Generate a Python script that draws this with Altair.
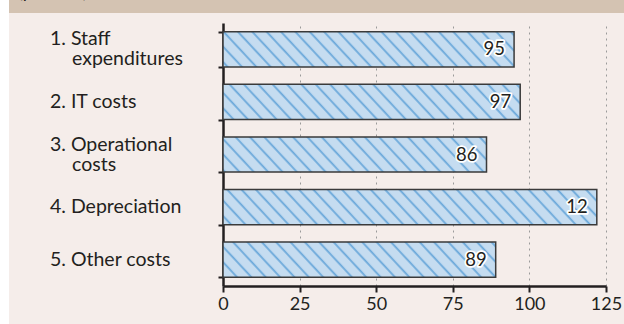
import altair as alt
import pandas as pd
import jinja2

# ---------------- data ----------------
label_line1 = ["1. Staff", "2. IT costs", "3. Operational", "4. Depreciation", "5. Other costs"]
label_line2 = ["expenditures", "", "costs", "", ""]
values = [95, 97, 86, 122, 89]
value_labels = ["95", "97", "86", "12", "89"]
x_ticks = [0, 25, 50, 75, 100, 125]
header_text = "(percent)"

df = pd.DataFrame({"cat": label_line1, "line2": label_line2, "value": values, "label": value_labels})
dummy = pd.DataFrame({"d": [0]})

INK = "#231F20"
W, H = 383, 263

y_scale = alt.Scale(domain=label_line1, paddingInner=0.33, paddingOuter=0.165)
y_enc = alt.Y(
    "cat:N",
    title=None,
    scale=y_scale,
    axis=alt.Axis(
        labels=False,
        tickBand="extent",
        tickSize=5,
        tickWidth=2,
        tickColor=INK,
        domainWidth=2.5,
        domainColor=INK,
        grid=False,
    ),
)
x_enc = alt.X(
    "value:Q",
    title=None,
    scale=alt.Scale(domain=[0, 125], nice=False),
    axis=alt.Axis(
        values=x_ticks,
        format="d",
        grid=True,
        gridDash=[2, 4],
        gridColor="#9A9A9A",
        gridWidth=1,
        tickSize=6,
        tickWidth=2,
        tickColor=INK,
        domainWidth=2.5,
        domainColor=INK,
        labelFont="Lato",
        labelFontSize=18,
        labelColor=INK,
        labelPadding=3,
        labelFlush=False,
    ),
)
y_plain = alt.Y("cat:N", scale=y_scale)

white_strip = alt.Chart(dummy).mark_rect(color="white").encode(
    x=alt.value(-223), x2=alt.value(-214), y=alt.value(-23), y2=alt.value(301)
)
header = alt.Chart(dummy).mark_rect(color="#D4C3B2").encode(
    x=alt.value(-214), x2=alt.value(401), y=alt.value(-23), y2=alt.value(-10)
)
header_lbl = alt.Chart(dummy).mark_text(
    text=header_text, align="left", baseline="alphabetic", font="Lato", fontSize=18, color=INK
).encode(x=alt.value(-205), y=alt.value(-25))

bars = alt.Chart(df).mark_bar(
    fill="url(#hatch) #C5DCF0", stroke="#3A3A3A", strokeWidth=1.5
).encode(x=x_enc, y=y_enc)

lab_kw = dict(align="left", baseline="middle", font="Lato", fontSize=19.5, color=INK)
single = alt.Chart(df).transform_filter("datum.line2 == ''").mark_text(**lab_kw).encode(
    x=alt.value(-173), y=y_plain, text="cat:N"
)
first = alt.Chart(df).transform_filter("datum.line2 != ''").mark_text(dy=-10, **lab_kw).encode(
    x=alt.value(-173), y=y_plain, text="cat:N"
)
second = alt.Chart(df).transform_filter("datum.line2 != ''").mark_text(dy=10, **lab_kw).encode(
    x=alt.value(-151), y=y_plain, text="line2:N"
)

halo = alt.Chart(df).mark_text(
    align="right", baseline="middle", dx=-9, font="Lato", fontSize=18.5,
    stroke="white", strokeWidth=3.5, strokeJoin="round", color="white"
).encode(x="value:Q", y=y_plain, text="label:N")
txt = alt.Chart(df).mark_text(
    align="right", baseline="middle", dx=-9, font="Lato", fontSize=18.5, color=INK
).encode(x="value:Q", y=y_plain, text="label:N")

chart = alt.layer(white_strip, header, header_lbl, bars, single, first, second, halo, txt).properties(
    width=W,
    height=H,
    padding={"left": 223, "top": 23, "right": 18, "bottom": 38},
    autosize=alt.AutoSizeParams(type="none"),
    background="#F5EDEA",
).configure_view(stroke=None)

TEMPLATE = jinja2.Template("""<!DOCTYPE html>
<html>
<head>
  <style>
    #{{ output_div }}.vega-embed {
      width: 100%;
      display: flex;
    }
    #{{ output_div }}.vega-embed details,
    #{{ output_div }}.vega-embed details summary {
      position: relative;
    }
  </style>
  <script type="text/javascript" src="{{ base_url }}/vega@{{ vega_version }}"></script>
  <script type="text/javascript" src="{{ base_url }}/vega-lite@{{ vegalite_version }}"></script>
  <script type="text/javascript" src="{{ base_url }}/vega-embed@{{ vegaembed_version }}"></script>
</head>
<body>
  <svg width="0" height="0" style="position:absolute;width:0;height:0">
    <defs>
      <pattern id="hatch" patternUnits="userSpaceOnUse" width="10.5" height="10" patternTransform="rotate(-43)">
        <rect x="0" y="0" width="10.5" height="10" fill="#C5DCF0"></rect>
        <line x1="5" y1="-1" x2="5" y2="11" stroke="#6AA8DA" stroke-width="1.8"></line>
      </pattern>
    </defs>
  </svg>
  <div id="{{ output_div }}"></div>
  <script>
    (function(vegaEmbed) {
      var spec = {{ spec }};
      var embedOpt = {{ embed_options }};
      function showError(el, error){
          el.innerHTML = ('<div style="color:red;"><p>JavaScript Error: ' + error.message + '</p></div>');
          throw error;
      }
      const el = document.getElementById('{{ output_div }}');
      vegaEmbed("#{{ output_div }}", spec, embedOpt)
        .catch(error => showError(el, error));
    })(vegaEmbed);
  </script>
</body>
</html>""")

chart.save("out.html", embed_options={"renderer": "svg", "actions": False}, template=TEMPLATE)
